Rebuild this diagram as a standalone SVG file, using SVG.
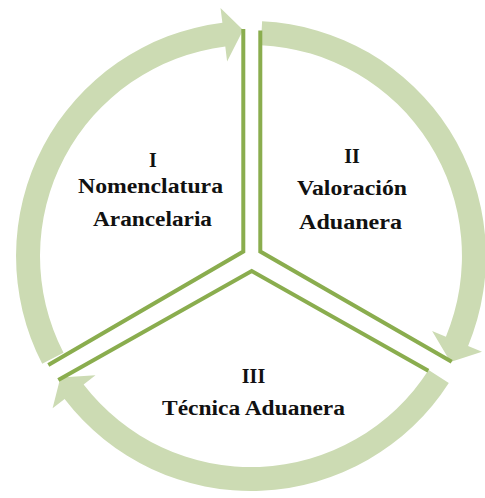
<svg xmlns="http://www.w3.org/2000/svg" width="485" height="498" viewBox="0 0 485 498">
  <style>
    .arrow { fill: #ccdbb3; stroke: none; }
    .sep { fill: none; stroke: #8aad4e; stroke-width: 4; stroke-linejoin: miter; stroke-linecap: butt; }
    .lbl { font-family: "Liberation Serif", "DejaVu Serif", serif; font-weight: bold; font-size: 20px; fill: #111; text-anchor: middle; }
  </style>
  <rect width="485" height="498" fill="#ffffff"/>
  <g id="connectors">
    <path class="arrow" d="M 42.2,363.8 A 235 235 0 0 1 222.4,22.8 L 220.5,7.9 L 243.1,30.1 L 227.1,61.5 L 225.3,46.6 A 211 211 0 0 0 63.5,352.8 Z"/>
    <path class="arrow" d="M 262.1,21.3 A 235 235 0 0 1 468.1,345.9 L 482.0,351.7 L 450.5,362.1 L 432.1,331.0 L 445.9,336.7 A 211 211 0 0 0 260.9,45.2 Z"/>
    <path class="arrow" d="M 448.8,382.9 A 235 235 0 0 1 64.6,399.1 L 52.6,408.2 L 60.4,377.4 L 95.5,375.3 L 83.6,384.5 A 211 211 0 0 0 428.6,370.0 Z"/>
  </g>
  <g id="node-I">
    <polyline class="sep" points="243.3,29 243.3,251.5 48.3,365"/>
    <text class="lbl" x="153" y="167">I</text>
    <text class="lbl" x="150.5" y="193" textLength="145" lengthAdjust="spacingAndGlyphs">Nomenclatura</text>
    <text class="lbl" x="152.5" y="226" textLength="119" lengthAdjust="spacingAndGlyphs">Arancelaria</text>
  </g>
  <g id="node-II">
    <polyline class="sep" points="260.3,30.5 260.3,251.5 451.7,361.7"/>
    <text class="lbl" x="352" y="163">II</text>
    <text class="lbl" x="352" y="195" textLength="110" lengthAdjust="spacingAndGlyphs">Valoración</text>
    <text class="lbl" x="350.5" y="229" textLength="103" lengthAdjust="spacingAndGlyphs">Aduanera</text>
  </g>
  <g id="node-III">
    <polyline class="sep" points="58.3,380 251.7,271 428.3,370.7"/>
    <text class="lbl" x="253.5" y="383">III</text>
    <text class="lbl" x="253.5" y="415" textLength="183" lengthAdjust="spacingAndGlyphs">Técnica Aduanera</text>
  </g>
</svg>
